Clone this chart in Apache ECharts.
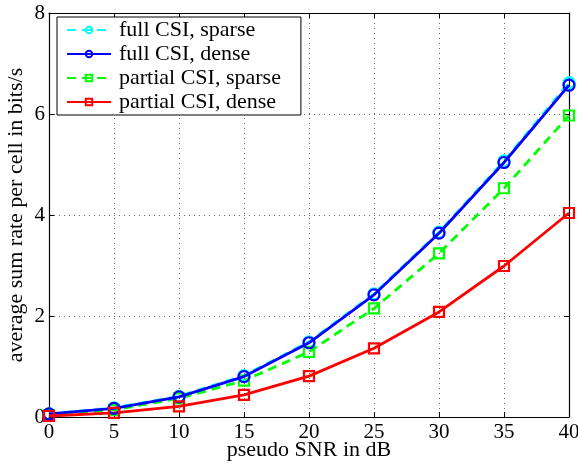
<!DOCTYPE html>
<html><head><meta charset="utf-8">
<script src="https://cdn.jsdelivr.net/npm/echarts@6/dist/echarts.min.js"></script>
<style>html,body{margin:0;padding:0;background:#fff}#c{width:578px;height:466px}</style>
</head><body><div id="c"></div>
<script>
const snr = [0, 5, 10, 15, 20, 25, 30, 35, 40];
const fullSparse = [0.06, 0.18, 0.41, 0.82, 1.49, 2.44, 3.66, 5.07, 6.62];
const fullDense = [0.06, 0.17, 0.40, 0.80, 1.47, 2.42, 3.64, 5.04, 6.57];
const partialSparse = [0.04, 0.14, 0.37, 0.72, 1.29, 2.15, 3.24, 4.53, 5.97];
const partialDense = [0.02, 0.08, 0.21, 0.44, 0.81, 1.36, 2.08, 2.99, 4.04];
const names = ['full CSI, sparse', 'full CSI, dense', 'partial CSI, sparse', 'partial CSI, dense'];

const font = 'Liberation Serif, Times New Roman, serif';
const chart = echarts.init(document.getElementById('c'));
function pts(arr){ return snr.map((x,i)=>[x, arr[i]]); }
function mk(name, data, color, type, symbol, size, z){
  return {name, type:'line', data:pts(data), symbol, symbolSize:size, z,
    lineStyle:{color, width:2.8, type}, itemStyle:{color:'transparent', borderColor:color, borderWidth:2.2},
    emphasis:{disabled:true}, animation:false};
}
const gridLine = {show:true, lineStyle:{color:'#666', type:[1,4], width:1}};
const line = {show:true, onZero:false, lineStyle:{color:'#000', width:1.2}};
const tick = {show:true, inside:true, length:5, lineStyle:{color:'#000'}};
chart.setOption({
  animation:false,
  grid:{left:49, right:9, top:13, bottom:49, outerBoundsMode:'none'},
  legend:{orient:'vertical', left:57, top:17, padding:[2,20,2,9], itemGap:2, itemWidth:44, itemHeight:8,
    backgroundColor:'#fff', borderColor:'#000', borderWidth:1, borderRadius:0,
    textStyle:{fontFamily:font, fontSize:22, color:'#000', padding:[0,0,0,3]}, data:names},
  xAxis:[{type:'value', min:0, max:40, interval:5, name:'pseudo SNR in dB', nameLocation:'middle', nameGap:22,
    nameMoveOverlap:false,
    nameTextStyle:{fontFamily:font, fontSize:22, color:'#000'},
    axisLine:line, axisTick:tick,
    axisLabel:{fontFamily:font, fontSize:21, color:'#000', margin:5},
    splitLine:gridLine},
    {type:'value', position:'top', min:0, max:40, interval:5,
    axisLine:line, axisTick:tick, axisLabel:{show:false}, splitLine:{show:false}}],
  yAxis:[{type:'value', min:0, max:8, interval:2, name:'average sum rate per cell in bits/s', nameLocation:'middle', nameGap:22,
    nameMoveOverlap:false,
    nameTextStyle:{fontFamily:font, fontSize:22, color:'#000'},
    axisLine:line, axisTick:tick,
    axisLabel:{fontFamily:font, fontSize:21, color:'#000', margin:4},
    splitLine:gridLine},
    {type:'value', position:'right', min:0, max:8, interval:2,
    axisLine:line, axisTick:tick, axisLabel:{show:false}, splitLine:{show:false}}],
  series:[
    mk(names[0], fullSparse, '#00ffff', [9,6], 'circle', 11, 2),
    mk(names[1], fullDense, '#0000ff', 'solid', 'circle', 11, 3),
    mk(names[2], partialSparse, '#00ff00', [9,6], 'rect', 10, 2),
    mk(names[3], partialDense, '#ff0000', 'solid', 'rect', 10, 3)
  ]
});
</script></body></html>
